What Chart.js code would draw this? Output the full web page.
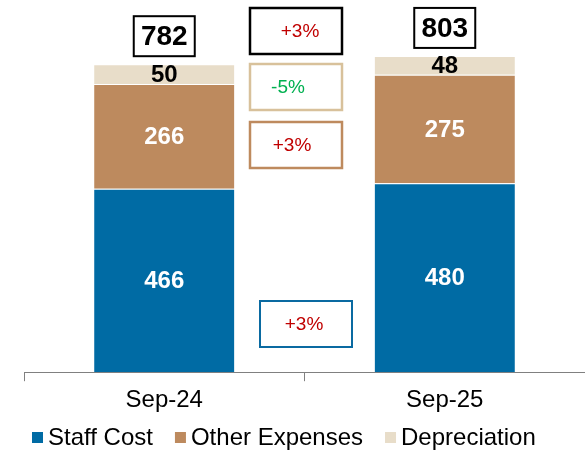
<!DOCTYPE html>
<html>
<head>
<meta charset="utf-8">
<script src="https://cdn.jsdelivr.net/npm/chart.js@4/dist/chart.umd.min.js"></script>
<style>
  html, body { margin: 0; padding: 0; background: #fff; }
  #wrap { width: 585px; height: 450px; }
</style>
</head>
<body>
<div id="wrap"><canvas id="chartCosts"></canvas></div>
<script>
const PERIODS = ["Sep-24", "Sep-25"];
const staffCost = [466, 480];
const otherExpenses = [266, 275];
const depreciation = [50, 48];
const totals = [782, 803];

// change boxes between the bars (top to bottom: total, depreciation, other, staff)
const changeLabels = ["+3%", "-5%", "+3%", "+3%"];

const FONT = "'Liberation Sans', Arial, sans-serif";

const labelPlugin = {
    id: 'labels',
    afterDatasetsDraw(chart) {
        const ctx = chart.ctx;
        ctx.save();
        ctx.textAlign = 'center';
        ctx.textBaseline = 'middle';

        // values inside segments
        chart.data.datasets.forEach((ds, di) => {
            const meta = chart.getDatasetMeta(di);
            meta.data.forEach((bar, i) => {
                const mid = (bar.y + bar.base) / 2;
                ctx.font = 'bold 24px ' + FONT;
                ctx.fillStyle = di == 2 ? '#000000' : '#ffffff';
                ctx.fillText(ds.data[i], bar.x, mid + 1);
            });
        });

        // total boxes
        const topMeta = chart.getDatasetMeta(2);
        topMeta.data.forEach((bar, i) => {
            const w = 61, h = 40;
            const cy = bar.y - 8 - h / 2;
            ctx.fillStyle = '#fff';
            ctx.fillRect(bar.x - w / 2, cy - h / 2, w, h);
            ctx.lineWidth = 2;
            ctx.strokeStyle = '#000';
            ctx.strokeRect(bar.x - w / 2, cy - h / 2, w, h);
            ctx.font = 'bold 28px ' + FONT;
            ctx.fillStyle = '#000';
            ctx.fillText(totals[i], bar.x, cy + 1);
        });

        // change boxes
        const boxes = [
            { x: 250, y: 8, border: '#000000', lw: 2.5, color: '#C00000', dx: 4 },
            { x: 250, y: 64, border: '#D8C19B', lw: 2.5, color: '#00B050', dx: -8 },
            { x: 250, y: 122, border: '#BE8A5E', lw: 2.5, color: '#C00000', dx: -4 },
            { x: 260, y: 301, border: '#0A6AA1', lw: 2, color: '#C00000', dx: -2 }
        ];
        boxes.forEach((b, i) => {
            const w = 92, h = 46;
            ctx.lineWidth = b.lw;
            ctx.strokeStyle = b.border;
            ctx.strokeRect(b.x, b.y, w, h);
            ctx.font = '19px ' + FONT;
            ctx.fillStyle = b.color;
            ctx.fillText(changeLabels[i], b.x + w / 2 + b.dx, b.y + h / 2 + 1);
        });
        ctx.restore();
    },
    // legend drawn by hand so the box/text gaps match
    afterDraw(chart) {
        const ctx = chart.ctx;
        ctx.save();
        ctx.font = '24px ' + FONT;
        ctx.textBaseline = 'middle';
        ctx.textAlign = 'left';
        let x = 32;
        const y = 438;
        chart.data.datasets.forEach(ds => {
            ctx.fillStyle = ds.backgroundColor;
            ctx.fillRect(x, y - 6, 11, 11);
            ctx.fillStyle = '#000';
            ctx.fillText(ds.label, x + 16, y);
            x += 16 + ctx.measureText(ds.label).width + 22;
        });
        ctx.restore();
    }
};

const data = {
    labels: PERIODS,
    datasets: [{
        label: 'Staff Cost',
        data: staffCost,
        backgroundColor: "rgb(0, 107, 164)",
    },
    {
        label: 'Other Expenses',
        data: otherExpenses,
        backgroundColor: "rgb(189, 138, 94)",
    },
    {
        label: 'Depreciation',
        data: depreciation,
        backgroundColor: "rgb(232, 221, 201)",
    }]
};
data.datasets.forEach(ds => {
    ds.borderColor = '#ffffff';
    ds.borderWidth = { top: 1, bottom: 0, left: 0, right: 0 };
    ds.borderSkipped = false;
    ds.categoryPercentage = 1;
    ds.barPercentage = 0.5;
});

const config = {
    type: 'bar',
    data: data,
    options: {
        responsive: true,
        maintainAspectRatio: false,
        animation: false,
        layout: { padding: { left: 24, right: 0, top: 0, bottom: 30 } },
        plugins: {
            legend: { display: false },
            tooltip: { enabled: false }
        },
        scales: {
            x: {
                stacked: true,
                grid: {
                    offset: true,
                    drawOnChartArea: false,
                    drawTicks: true,
                    tickLength: 9,
                    color: '#808080'
                },
                border: { display: true, color: '#808080', width: 1 },
                ticks: {
                    font: { family: FONT, size: 24 },
                    color: '#000',
                    padding: 5
                }
            },
            y: {
                stacked: true,
                display: false,
                min: 0,
                max: 945
            }
        }
    },
    plugins: [labelPlugin]
};

new Chart(document.getElementById('chartCosts'), config);
</script>
</body>
</html>
